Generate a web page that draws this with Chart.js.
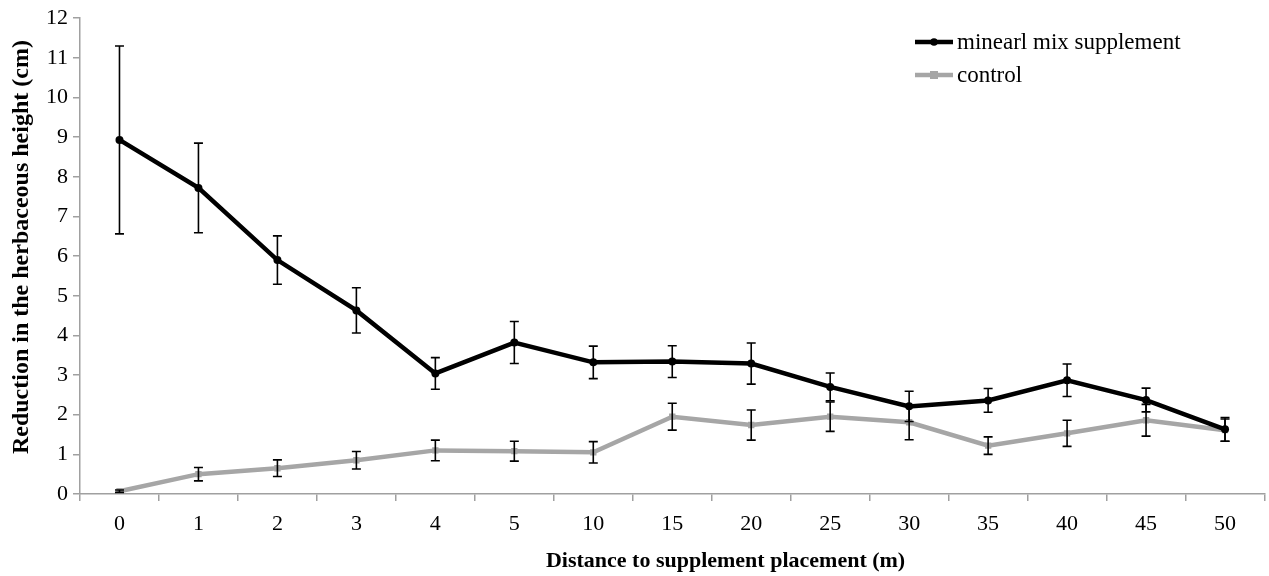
<!DOCTYPE html>
<html>
<head>
<meta charset="utf-8">
<script src="https://cdn.jsdelivr.net/npm/chart.js@4.4.1/dist/chart.umd.min.js"></script>
<style>
  html, body { margin: 0; padding: 0; background: #fff; }
  #wrap { width: 1269px; height: 576px; position: relative; }
</style>
</head>
<body>
<div id="wrap"><canvas id="chart"></canvas></div>
<script>
const labels = ["0", "1", "2", "3", "4", "5", "10", "15", "20", "25", "30", "35", "40", "45", "50"]

const mineralMix = [8.93, 7.72, 5.90, 4.63, 3.04, 3.82, 3.32, 3.34, 3.29, 2.70, 2.21, 2.36, 2.87, 2.37, 1.63]
const mineralErr = [2.37, 1.13, 0.61, 0.57, 0.40, 0.53, 0.41, 0.40, 0.52, 0.35, 0.38, 0.30, 0.41, 0.30, 0.30]

const control = [0.07, 0.50, 0.65, 0.85, 1.10, 1.08, 1.05, 1.95, 1.74, 1.95, 1.81, 1.22, 1.53, 1.86, 1.61]
const controlErr = [0.03, 0.17, 0.21, 0.22, 0.26, 0.25, 0.27, 0.34, 0.38, 0.37, 0.44, 0.22, 0.33, 0.40, 0.28]

const yTicks = [0, 1, 2, 3, 4, 5, 6, 7, 8, 9, 10, 11, 12]

const xTitle = "Distance to supplement placement (m)"
const yTitle = "Reduction in the herbaceous height (cm)"

const FONT = "'Liberation Serif', 'Times New Roman', serif"
const AXIS_GREY = "#a0a0a0"

// vertical error bars with caps
const errorBars = {
    id: 'errorBars',
    afterDatasetsDraw(chart) {
        const ctx = chart.ctx
        const x = chart.scales.x
        const y = chart.scales.y
        const sets = [[control, controlErr], [mineralMix, mineralErr]]
        ctx.save()
        ctx.strokeStyle = "#000"
        ctx.lineWidth = 1.6
        sets.forEach(([vals, errs]) => {
            vals.forEach((v, i) => {
                const px = x.getPixelForValue(i)
                const top = y.getPixelForValue(v + errs[i])
                const bot = y.getPixelForValue(v - errs[i])
                ctx.beginPath()
                ctx.moveTo(px, top)
                ctx.lineTo(px, bot)
                ctx.moveTo(px - 4.5, top)
                ctx.lineTo(px + 4.5, top)
                ctx.moveTo(px - 4.5, bot)
                ctx.lineTo(px + 4.5, bot)
                ctx.stroke()
            })
        })
        ctx.restore()
    }
}

// axis titles (the x title sits right of centre in the original)
const axisTitles = {
    id: 'axisTitles',
    afterDraw(chart) {
        const ctx = chart.ctx
        const area = chart.chartArea
        ctx.save()
        ctx.fillStyle = "#000"
        ctx.textAlign = "center"
        ctx.textBaseline = "middle"
        ctx.font = "bold 22px " + FONT
        ctx.fillText(xTitle, area.left + (area.right - area.left) * 0.545, 561)
        ctx.translate(22, (area.top + area.bottom) / 2 - 9)
        ctx.rotate(-Math.PI / 2)
        ctx.font = "bold 24px " + FONT
        ctx.fillText(yTitle, 0, 0)
        ctx.restore()
    }
}

// legend in the upper right corner of the plot
const cornerLegend = {
    id: 'cornerLegend',
    afterDraw(chart) {
        const ctx = chart.ctx
        const items = [
            { text: "minearl mix supplement", color: "#000", style: 'circle' },
            { text: "control", color: "#a6a6a6", style: 'rect' }
        ]
        const x0 = 915, x1 = 953
        ctx.save()
        items.forEach((it, k) => {
            const yy = 42 + k * 33
            ctx.strokeStyle = it.color
            ctx.fillStyle = it.color
            ctx.lineWidth = 4.5
            ctx.beginPath()
            ctx.moveTo(x0, yy)
            ctx.lineTo(x1, yy)
            ctx.stroke()
            const cx = (x0 + x1) / 2
            if (it.style === 'circle') {
                ctx.beginPath()
                ctx.arc(cx, yy, 3.8, 0, Math.PI * 2)
                ctx.fill()
            } else {
                ctx.fillRect(cx - 4, yy - 4, 8, 8)
            }
            ctx.fillStyle = "#000"
            ctx.font = "23px " + FONT
            ctx.textBaseline = "middle"
            ctx.fillText(it.text, 957, yy + 1)
        })
        ctx.restore()
    }
}

new Chart(document.getElementById("chart"), {
    type: 'line',
    data: {
        labels: labels,
        datasets: [
            {
                label: "minearl mix supplement",
                data: mineralMix,
                borderColor: "#000",
                backgroundColor: "#000",
                borderWidth: 4.5,
                pointStyle: 'circle',
                pointRadius: 4,
                pointBorderWidth: 0,
                tension: 0,
                order: 1
            },
            {
                label: "control",
                data: control,
                borderColor: "#a6a6a6",
                backgroundColor: "#a6a6a6",
                borderWidth: 4.5,
                pointStyle: 'rect',
                pointRadius: 4.5,
                pointBorderWidth: 0,
                tension: 0,
                order: 2
            }
        ]
    },
    options: {
        responsive: true,
        maintainAspectRatio: false,
        animation: false,
        layout: {
            padding: { top: 17, right: 3, bottom: 0, left: 0 }
        },
        plugins: {
            legend: { display: false },
            tooltip: { enabled: false }
        },
        scales: {
            x: {
                offset: true,
                afterFit: function (scale) { scale.height = 82 },
                grid: {
                    offset: true,
                    drawOnChartArea: false,
                    color: AXIS_GREY,
                    tickLength: 7,
                    lineWidth: 1.5
                },
                border: { color: AXIS_GREY, width: 1.5 },
                ticks: {
                    color: "#000",
                    padding: 10,
                    maxRotation: 0,
                    font: { family: FONT, size: 22 }
                }
            },
            y: {
                min: 0,
                max: 12,
                afterFit: function (scale) { scale.width = 80 },
                afterBuildTicks: function (scale) {
                    scale.ticks = yTicks.map((v) => ({ value: v }))
                },
                grid: {
                    drawOnChartArea: false,
                    color: AXIS_GREY,
                    tickLength: 7,
                    lineWidth: 1.5
                },
                border: { color: AXIS_GREY, width: 1.5 },
                ticks: {
                    color: "#000",
                    padding: 5,
                    font: { family: FONT, size: 22 }
                }
            }
        }
    },
    plugins: [errorBars, axisTitles, cornerLegend]
})
</script>
</body>
</html>
